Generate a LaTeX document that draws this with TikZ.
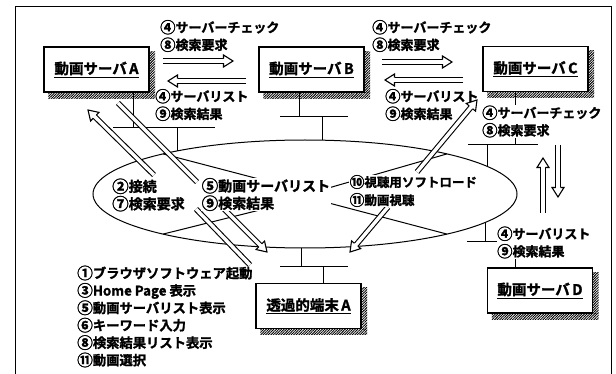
\documentclass[tikz,border=0pt]{standalone}
\usepackage{fontspec}
\usepackage{graphicx}
\setmainfont{Noto Sans CJK JP}[BoldFont={Noto Sans CJK JP Bold}, BoldFeatures={FakeBold=1.5}]
\usetikzlibrary{calc,patterns.meta,shapes.geometric}
\newcommand\cn[1]{\raisebox{-0.06em}{\scalebox{1.18}{#1}}}
\tikzset{
  box/.style={draw, line width=1.1pt, minimum width=105pt, minimum height=45pt, inner sep=0pt, fill=white, font=\fontsize{14.5}{16}\selectfont\bfseries},
  net/.style={line width=1pt},
  lbl/.style={inner sep=0.5pt, align=left, anchor=west, font=\fontsize{13}{17.5}\selectfont\bfseries},
  lblb/.style={inner sep=0.5pt, align=left, anchor=west, font=\fontsize{14}{17.4}\selectfont\bfseries},
  dshaft/.style={draw=black, double=white, double distance=3.4pt, line width=1.1pt},
  ahead/.style={draw=black, fill=white, line width=1.1pt, line join=miter},
  shade/.style={pattern={Lines[angle=45,distance=1.8pt,line width=0.9pt]}},
}
\newcommand\harrow[2]{%
  \coordinate (#2-h) at ($(#2)!9.5pt!(#1)$);
  \draw[dshaft] (#1) -- (#2-h);
  \draw[ahead] ($(#2-h)!2.25pt!90:(#2)$) -- ($(#2-h)!6pt!90:(#2)$) -- (#2) -- ($(#2-h)!6pt!-90:(#2)$) -- ($(#2-h)!2.25pt!-90:(#2)$);
}
\newcommand\boxshadow[1]{%
  \fill[shade] ([yshift=-5pt]#1.north east) rectangle ([xshift=5.5pt]#1.south east);
  \fill[shade] ([xshift=5pt]#1.south west) rectangle ([xshift=5.5pt,yshift=-5.5pt]#1.south east);
}
\begin{document}
\begin{tikzpicture}[x=1pt,y=-1pt]
\useasboundingbox (0,0) rectangle (616,374);
% frame
\draw[line width=1pt] (15,380) -- (15,7) -- (611,7) -- (611,380);
% network cloud
\node[draw, ellipse, net, minimum width=424pt, minimum height=108pt, inner sep=0pt] (cloud) at (305,194) {};
% boxes
\node[box] (sa) at (96.5,69.5) {\underline{動画サーバ\,A}};
\node[box] (sb) at (311.5,69.5) {\underline{動画サーバ\,B}};
\node[box] (sc) at (535.5,69) {\underline{動画サーバ\,C}};
\node[box] (sd) at (540,290.5) {\underline{動画サーバ\,D}};
\node[box] (ta) at (308.5,306) {\underline{透過的端末\,A}};
\boxshadow{sa}\boxshadow{sb}\boxshadow{sc}\boxshadow{sd}\boxshadow{ta}
% network drops
\draw[net] (sa.south -| 133,0) -- (133,128);
\draw[net] (113,128) -- (215,128);
\draw[net] (177,128) -- (177,151);
\draw[net] (sb.south -| 299,0) -- (299,117);
\draw[net] (280,117) -- (348,117);
\draw[net] (322,117) -- (322,140.2);
\draw[net] (sc.south -| 515,0) -- (515,145);
\draw[net] (468,145) -- (538,145);
\draw[net] (487,145) -- (487,166.3);
\draw[net] (485,222.5) -- (485,242);
\draw[net] (467,242) -- (515,242);
\draw[net] (515,242) -- (sd.north -| 515,0);
\draw[net] (301,248) -- (301,267);
\draw[net] (280,267) -- (348,267);
\draw[net] (323,267) -- (ta.north -| 323,0);
% spokes inside cloud
\draw[net] (163,153.9) -- (320,195);
\draw[net] (163,234.1) -- (320,195);
\draw[net] (447,153.9) -- (325,189);
\draw[net] (447,234.1) -- (325,202);
% arrows between servers
\coordinate (h1s) at (163,61); \coordinate (h1e) at (233,61);
\coordinate (h2s) at (246,81); \coordinate (h2e) at (168,81);
\coordinate (h3s) at (382,62); \coordinate (h3e) at (452,62);
\coordinate (h4s) at (463,80); \coordinate (h4e) at (385,80);
\coordinate (v1s) at (543,213); \coordinate (v1e) at (543,158);
\coordinate (v2s) at (558,145); \coordinate (v2e) at (558,197);
\harrow{h1s}{h1e}\harrow{h2s}{h2e}\harrow{h3s}{h3e}\harrow{h4s}{h4e}
\harrow{v1s}{v1e}\harrow{v2s}{v2e}
% arrows through the cloud
\coordinate (a1t) at (250,265); \coordinate (a1g) at (196,209);
\coordinate (a1s) at (154,175); \coordinate (a1e) at (88,110);
\draw[dshaft] (a1t) -- (a1g);
\harrow{a1s}{a1e}
\coordinate (a2t) at (118,103); \coordinate (a2g) at (197,182);
\coordinate (a2s) at (223,208); \coordinate (a2e) at (267,252);
\draw[dshaft] (a2t) -- (a2g);
\harrow{a2s}{a2e}
\coordinate (a3s) at (417,172); \coordinate (a3e) at (477,100);
\coordinate (a4s) at (388,207); \coordinate (a4e) at (350,252);
\harrow{a3s}{a3e}\harrow{a4s}{a4e}
% labels
\node[lbl] (t1) at (159.5,36) {\cn{④}サーバーチェック\\\cn{⑧}検索要求};
\node[lbl] (t2) at (154.5,105) {\cn{④}サーバリスト\\\cn{⑨}検索結果};
\node[lbl] (t3) at (371.5,36) {\cn{④}サーバーチェック\\\cn{⑧}検索要求};
\node[lbl] (t4) at (384.5,105) {\cn{④}サーバリスト\\\cn{⑨}検索結果};
\node[lbl, fill=white] (t5) at (481.5,121.5) {\cn{④}サーバーチェック\\\cn{⑧}検索要求};
\node[lbl, fill=white] (t6) at (496.5,242.5) {\cn{④}サーバリスト\\\cn{⑨}検索結果};
\node[lblb] (l2) at (111.5,195) {\cn{②}接続\\\cn{⑦}検索要求};
\node[lblb, fill=white] (l5) at (201,194.5) {\cn{⑤}動画サーバリスト\\\cn{⑨}検索結果};
\node[lbl, fill=white, font=\fontsize{12.5}{18}\selectfont\bfseries] (l10) at (349,191) {\cn{⑩}視聴用ソフトロード\\\cn{⑪}動画視聴};
\node[lbl, font=\fontsize{13.3}{17.4}\selectfont\bfseries] (list) at (76.5,316.5) {\cn{①}ブラウザソフトウェア起動\\\cn{③}Home Page 表示\\\cn{⑤}動画サーバリスト表示\\\cn{⑥}キーワード入力\\\cn{⑧}検索結果リスト表示\\\cn{⑪}動画選択};
\end{tikzpicture}
\end{document}
